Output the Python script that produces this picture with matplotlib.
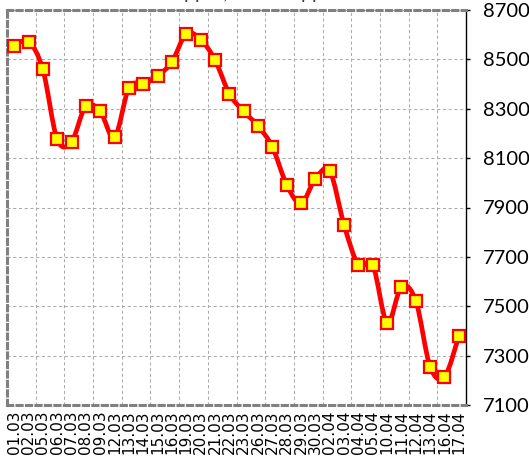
import matplotlib
matplotlib.use("Agg")
import matplotlib.pyplot as plt
from matplotlib.path import Path
from matplotlib.patches import PathPatch
import numpy as np

dates = ["01.03", "02.03", "05.03", "06.03", "07.03", "08.03", "09.03", "12.03",
         "13.03", "14.03", "15.03", "16.03", "19.03", "20.03", "21.03", "22.03",
         "23.03", "26.03", "27.03", "28.03", "29.03", "30.03", "02.04", "03.04",
         "04.04", "05.04", "10.04", "11.04", "12.04", "13.04", "16.04", "17.04"]
prices = [8556, 8572, 8459, 8176, 8167, 8312, 8289, 8184,
          8385, 8402, 8433, 8490, 8604, 8580, 8498, 8361,
          8289, 8231, 8145, 7992, 7917, 8016, 8048, 7829,
          7667, 7667, 7433, 7579, 7522, 7255, 7214, 7379]
y_ticks = [7100, 7300, 7500, 7700, 7900, 8100, 8300, 8500, 8700]
title = "Copper, LME Copper"

W, H = 529, 462
fig = plt.figure(figsize=(W / 100, H / 100), dpi=100)
ax = fig.add_axes([7 / W, (H - 405) / H, (466 - 7) / W, 395 / H])

x = np.arange(len(prices))
y = np.array(prices, dtype=float)

# smoothed curve (Catmull-Rom bezier through the data points)
verts = [(x[0], y[0])]
codes = [Path.MOVETO]
n = len(x)
for i in range(n - 1):
    p0 = np.array([x[max(i - 1, 0)], y[max(i - 1, 0)]])
    p1 = np.array([x[i], y[i]])
    p2 = np.array([x[i + 1], y[i + 1]])
    p3 = np.array([x[min(i + 2, n - 1)], y[min(i + 2, n - 1)]])
    c1 = p1 + (p2 - p0) / 6.0
    c2 = p2 - (p3 - p1) / 6.0
    verts += [tuple(c1), tuple(c2), tuple(p2)]
    codes += [Path.CURVE4, Path.CURVE4, Path.CURVE4]
patch = PathPatch(Path(verts, codes), facecolor="none", edgecolor="#FF0000",
                  lw=3.4, capstyle="round", joinstyle="round", zorder=3)
ax.add_patch(patch)
ax.plot(x, y, linestyle="none", marker="s", markersize=8.2,
        markerfacecolor="#FFFF00", markeredgecolor="#FF0000",
        markeredgewidth=1.6, zorder=4)

ax.set_xlim(-0.5, len(prices) - 0.5)
ax.set_ylim(7100, 8700)

ax.set_xticks(x)
ax.set_xticklabels(dates, rotation=90, fontsize=11, family="DejaVu Sans")
ax.set_xticks(np.arange(1.5, len(prices) - 1, 2), minor=True)
ax.tick_params(axis="x", which="both", length=0, pad=4)

ax.yaxis.tick_right()
ax.set_yticks(y_ticks)
ax.set_yticklabels([str(v) for v in y_ticks], fontsize=14.5, family="Lato")
ax.tick_params(axis="y", length=3, width=1, color="black", pad=9)

gcol = "#ABABAB"
ax.grid(axis="x", which="minor", color=gcol, lw=0.75, linestyle=(0, (3, 2.5)))
ax.grid(axis="y", which="major", color=gcol, lw=0.75, linestyle=(0, (3, 2.5)))
ax.grid(axis="x", which="major", visible=False)
ax.set_axisbelow(True)

for side in ["top", "left", "bottom"]:
    sp = ax.spines[side]
    sp.set_color("#808080")
    sp.set_linewidth(2.2)
    sp.set_linestyle((0, (1.7, 1.4)))
ax.spines["right"].set_color("black")
ax.spines["right"].set_linewidth(1.0)

fig.text(250 / W, 1 + 1.5 / H, title, ha="center", va="baseline",
         fontsize=14, family="Lato", color="#404040")

fig.savefig("out.png", dpi=100)
